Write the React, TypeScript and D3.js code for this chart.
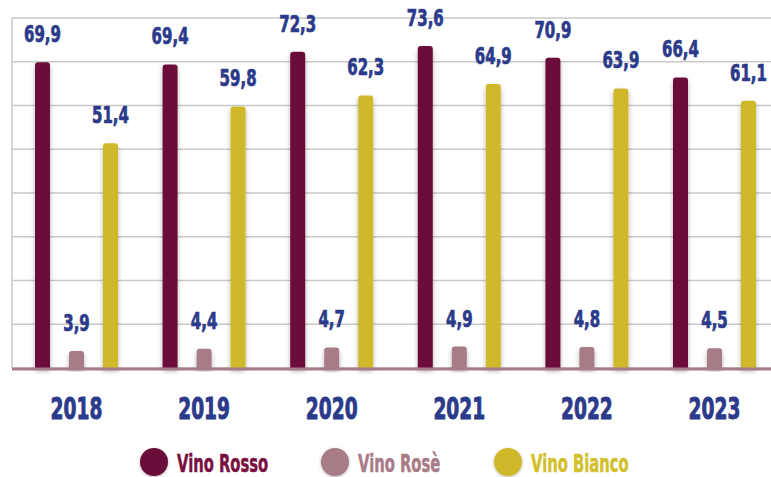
import React from "react";
import * as d3 from "d3";

const years = ["2018", "2019", "2020", "2021", "2022", "2023"];
const seriesNames = ["Vino Rosso", "Vino Rosè", "Vino Bianco"];
const rosso = [69.9, 69.4, 72.3, 73.6, 70.9, 66.4];
const rose = [3.9, 4.4, 4.7, 4.9, 4.8, 4.5];
const bianco = [51.4, 59.8, 62.3, 64.9, 63.9, 61.1];
const gridTicks = [0, 10, 20, 30, 40, 50, 60, 70, 80];

const barColors = ["#6a0f37", "#a87b87", "#cfb92c"];
const legendText = ["#7a1040", "#a87b87", "#d2bf2a"];
const labelColor = "#2b3a8a";
const FONT = "'DejaVu Sans Condensed', 'DejaVu Sans', sans-serif";

function sx(cx: number, s: number) {
  return `translate(${cx},0) scale(${s},1) translate(${-cx},0)`;
}

export default function App() {
  const W = 771, H = 477;
  const left = 12, top = 18, bottom = 368;
  const values = [rosso, rose, bianco];

  const y = d3.scaleLinear().domain([0, 80]).range([bottom, top]);
  const x0 = d3.scaleBand().domain(years).range([12.7, 778.3]).padding(0);
  const x1 = d3.scalePoint().domain(seriesNames).range([-34, 34]);
  const bw = 15;
  const fmt = (v: number) => d3.format(".1f")(v).replace(".", ",");

  const legendX = [154, 335, 508];

  return (
    <svg width={W} height={H} style={{ position: "absolute", left: 0, top: 0 }}>
      <defs>
        <filter id="sh" x="-50%" y="-10%" width="200%" height="130%">
          <feDropShadow dx="0" dy="3" stdDeviation="2.5" floodColor="#000" floodOpacity="0.3" />
        </filter>
        <filter id="sh2" x="-50%" y="-50%" width="200%" height="200%">
          <feDropShadow dx="0" dy="1" stdDeviation="1.5" floodColor="#000" floodOpacity="0.3" />
        </filter>
      </defs>
      <rect width={W} height={H} fill="#fff" />
      {gridTicks.map((t) => (
        <line key={t} x1={left} x2={W} y1={y(t)} y2={y(t)} stroke="#c9c9c9" strokeWidth={1.5} />
      ))}
      <line x1={left} x2={left} y1={top} y2={bottom} stroke="#c9c9c9" strokeWidth={1.5} />
      {years.map((yr, i) => {
        const cx = (x0(yr) as number) + x0.bandwidth() / 2;
        return (
          <g key={yr}>
            {seriesNames.map((s, j) => {
              const v = values[j][i];
              const bx = cx + (x1(s) as number) - bw / 2;
              const ty = y(v);
              const r = 3;
              const d = `M${bx},${bottom} V${ty + r} Q${bx},${ty} ${bx + r},${ty} H${bx + bw - r} Q${bx + bw},${ty} ${bx + bw},${ty + r} V${bottom} Z`;
              const lx = bx + bw / 2;
              return (
                <g key={s}>
                  <path d={d} fill={barColors[j]} filter="url(#sh)" />
                  <text x={lx} y={ty - 20} textAnchor="middle" fontFamily={FONT} fontWeight="bold" fontSize={22.5}
                    fill={labelColor} stroke={labelColor} strokeWidth={0.7} transform={sx(lx, 0.74)}>
                    {fmt(v)}
                  </text>
                </g>
              );
            })}
            <text x={cx} y={419} textAnchor="middle" fontFamily={FONT} fontWeight="bold" fontSize={30}
              fill={labelColor} stroke={labelColor} strokeWidth={0.9} transform={sx(cx, 0.69)}>
              {yr}
            </text>
          </g>
        );
      })}
      <line x1={left} x2={W} y1={bottom + 1} y2={bottom + 1} stroke="#a87b87" strokeWidth={3} />
      {seriesNames.map((s, j) => (
        <g key={s}>
          <circle cx={legendX[j]} cy={462} r={14} fill={barColors[j]} filter="url(#sh2)" />
          <text x={legendX[j] + 23} y={472} fontFamily={FONT} fontWeight="bold" fontSize={24.5}
            fill={legendText[j]} stroke={legendText[j]} strokeWidth={0.5} transform={sx(legendX[j] + 23, 0.67)}>
            {s}
          </text>
        </g>
      ))}
    </svg>
  );
}
